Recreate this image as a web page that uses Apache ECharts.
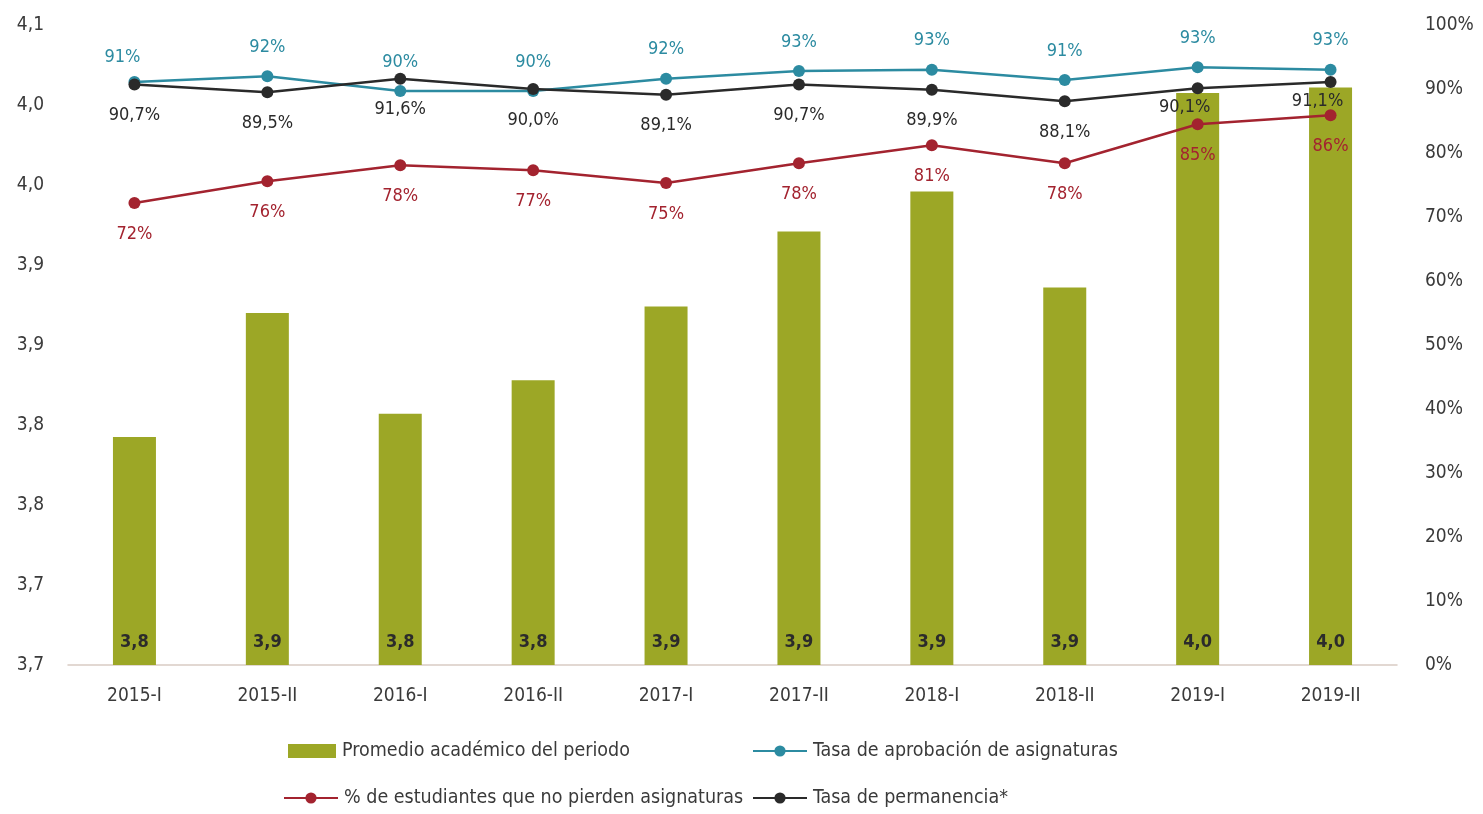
<!DOCTYPE html>
<html>
<head>
<meta charset="utf-8">
<title>Indicadores académicos</title>
<script src="https://cdn.jsdelivr.net/npm/echarts@6/dist/echarts.min.js"></script>
<style>
	html, body { margin: 0; padding: 0; background: #fff; }
	#chart { width: 1483px; height: 814px; }
</style>
</head>
<body>
<div id="chart"></div>
<script>
var periodos = ['2015-I', '2015-II', '2016-I', '2016-II', '2017-I', '2017-II', '2018-I', '2018-II', '2019-I', '2019-II'];
var promedio = [3.7925, 3.87, 3.807, 3.828, 3.874, 3.921, 3.946, 3.886, 4.0075, 4.011];
var aprobacion = [91.1, 92.0, 89.7, 89.7, 91.6, 92.8, 93.0, 91.4, 93.4, 93.0];
var noPierden = [72.2, 75.6, 78.1, 77.3, 75.3, 78.4, 81.2, 78.4, 84.5, 85.9];
var permanencia = [90.7, 89.5, 91.6, 90.0, 89.1, 90.7, 89.9, 88.1, 90.1, 91.1];
var ejeIzq = ['3,7', '3,7', '3,8', '3,8', '3,9', '3,9', '4,0', '4,0', '4,1'];

(function() {
	'use strict';

	var fuente = '"Liberation Sans Narrow", "DejaVu Sans Condensed", "Liberation Sans", sans-serif';
	var cVerde = '#9ca726';
	var cAzul = '#2c8ba1';
	var cRojo = '#a3232f';
	var cNegro = '#2a2a2a';
	var cTexto = '#3a3a3a';

	var chart = echarts.init(document.getElementById('chart'));

	function coma(v, d) {
		return v.toFixed(d).replace('.', ',');
	}

	//----------------------------leyendas------------------------------------------
	function leyenda(nombre, left, top, icono) {
		return {
			data: [nombre],
			left: left - 5,
			top: top,
			itemWidth: icono === 'rect' ? 48 : 54,
			itemHeight: 14,
			icon: icono,
			selectedMode: false,
			textStyle: { fontFamily: fuente, fontSize: 19.5, color: cTexto, padding: [0, 0, 0, 1] }
		};
	}

	var option = {
		backgroundColor: '#fff',
		animation: false,
		textStyle: { fontFamily: fuente },
		legend: [
			leyenda('Promedio académico del periodo', 288, 736, 'rect'),
			leyenda('Tasa de aprobación de asignaturas', 752, 736),
			leyenda('% de estudiantes que no pierden asignaturas', 283, 783),
			leyenda('Tasa de permanencia*', 752, 783)
		],
		grid: {
			left: 68,
			right: 86,
			top: 25,
			bottom: 149
		},
		xAxis: {
			type: 'category',
			data: periodos,
			axisLine: { lineStyle: { color: '#d9cbc4', width: 1.5 } },
			axisTick: { show: false },
			axisLabel: { color: cTexto, fontSize: 19, margin: 22, fontFamily: fuente }
		},
		yAxis: [{
			type: 'value',
			min: 3.65,
			max: 4.05,
			interval: 0.05,
			axisLine: { show: false },
			axisTick: { show: false },
			splitLine: { show: false },
			axisLabel: {
				color: cTexto, fontSize: 19, margin: 24, fontFamily: fuente,
				formatter: function(v, i) { return ejeIzq[i]; }
			}
		}, {
			type: 'value',
			min: 0,
			max: 100,
			interval: 10,
			axisLine: { show: false },
			axisTick: { show: false },
			splitLine: { show: false },
			axisLabel: {
				color: cTexto, fontSize: 19, margin: 28, fontFamily: fuente,
				formatter: '{value}%'
			}
		}],
		series: [{
			name: 'Promedio académico del periodo',
			type: 'bar',
			data: promedio,
			barWidth: 43,
			itemStyle: { color: cVerde },
			label: {
				show: true,
				position: 'insideBottom',
				distance: 14,
				color: '#2b2b2b',
				fontWeight: 'bold',
				fontSize: 18,
				fontFamily: fuente,
				formatter: function(p) { return coma(p.value, 1); }
			}
		}, {
			name: 'Tasa de aprobación de asignaturas',
			type: 'line',
			yAxisIndex: 1,
			data: aprobacion.map(function(v, i) {
				return i === 0 ? { value: v, label: { offset: [-12, 4] } } : v;
			}),
			symbol: 'circle',
			symbolSize: 12,
			itemStyle: { color: cAzul },
			lineStyle: { color: cAzul, width: 2.5 },
			label: {
				show: true,
				position: 'top',
				distance: 14,
				color: cAzul,
				fontSize: 18,
				fontFamily: fuente,
				formatter: function(p) { return Math.round(p.value) + '%'; }
			}
		}, {
			name: '% de estudiantes que no pierden asignaturas',
			type: 'line',
			yAxisIndex: 1,
			data: noPierden,
			symbol: 'circle',
			symbolSize: 12,
			itemStyle: { color: cRojo },
			lineStyle: { color: cRojo, width: 2.5 },
			label: {
				show: true,
				position: 'bottom',
				distance: 16,
				color: cRojo,
				fontSize: 18,
				fontFamily: fuente,
				formatter: function(p) { return Math.round(p.value) + '%'; }
			}
		}, {
			name: 'Tasa de permanencia*',
			type: 'line',
			yAxisIndex: 1,
			data: permanencia.map(function(v, i) {
				return i >= 8 ? { value: v, label: { offset: [-13, -12] } } : v;
			}),
			symbol: 'circle',
			symbolSize: 12,
			itemStyle: { color: cNegro },
			lineStyle: { color: cNegro, width: 2.5 },
			label: {
				show: true,
				position: 'bottom',
				distance: 16,
				color: cNegro,
				fontSize: 18,
				fontFamily: fuente,
				formatter: function(p) { return coma(p.value, 1) + '%'; }
			}
		}]
	};
	chart.setOption(option);

	window.onresize = function() {
		chart.resize();
	};
})();
</script>
</body>
</html>
